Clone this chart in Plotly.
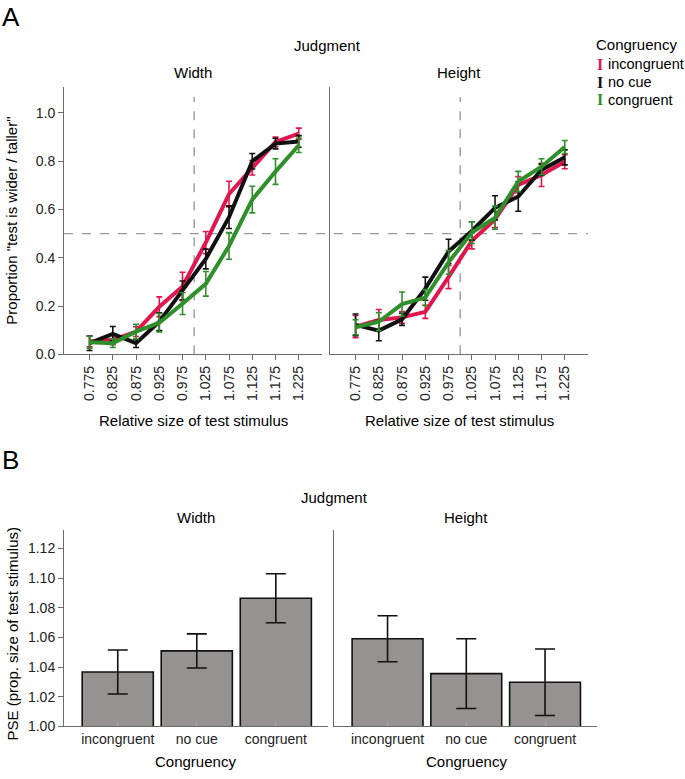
import plotly.graph_objects as go

# ---------------- data ----------------
sizes = [0.775, 0.825, 0.875, 0.925, 0.975, 1.025, 1.075, 1.125, 1.175, 1.225]
size_labels = ["0.775", "0.825", "0.875", "0.925", "0.975", "1.025", "1.075", "1.125", "1.175", "1.225"]

width_incongruent = [0.053, 0.060, 0.094, 0.197, 0.281, 0.463, 0.664, 0.773, 0.880, 0.914]
width_incongruent_err = [0.022, 0.020, 0.020, 0.041, 0.059, 0.046, 0.053, 0.030, 0.020, 0.023]
width_nocue = [0.046, 0.085, 0.046, 0.135, 0.265, 0.395, 0.568, 0.800, 0.873, 0.882]
width_nocue_err = [0.030, 0.030, 0.018, 0.037, 0.039, 0.041, 0.047, 0.032, 0.022, 0.024]
width_congruent = [0.050, 0.046, 0.094, 0.131, 0.210, 0.292, 0.449, 0.641, 0.757, 0.866]
width_congruent_err = [0.025, 0.018, 0.030, 0.038, 0.045, 0.051, 0.055, 0.055, 0.053, 0.030]

height_incongruent = [0.115, 0.142, 0.153, 0.176, 0.320, 0.470, 0.559, 0.702, 0.743, 0.798]
height_incongruent_err = [0.046, 0.044, 0.024, 0.027, 0.048, 0.033, 0.034, 0.034, 0.048, 0.029]
height_nocue = [0.122, 0.098, 0.145, 0.272, 0.426, 0.511, 0.607, 0.654, 0.764, 0.816]
height_nocue_err = [0.045, 0.042, 0.025, 0.048, 0.051, 0.038, 0.050, 0.061, 0.023, 0.031]
height_congruent = [0.112, 0.135, 0.208, 0.235, 0.381, 0.504, 0.566, 0.716, 0.777, 0.859]
height_congruent_err = [0.031, 0.037, 0.050, 0.033, 0.049, 0.045, 0.048, 0.042, 0.033, 0.027]

congruency = ["incongruent", "no cue", "congruent"]
pse_width = [1.0367, 1.0509, 1.0864]
pse_width_err = [0.0148, 0.0115, 0.0165]
pse_height = [1.0591, 1.0356, 1.0298]
pse_height_err = [0.0155, 0.0235, 0.0224]

colors = {"incongruent": "#E0164C", "no cue": "#111111", "congruent": "#2F8F2A"}

# ---------------- geometry helpers ----------------
W, H = 685, 779
def px(x):
    return x / W
def py(y):
    return 1 - y / H

FONT = "Liberation Sans, Arial, sans-serif"
AX = "#6b6b6b"
TXT = "#222222"

fig = go.Figure()

series_A = [
    ("x", "y", [("incongruent", width_incongruent, width_incongruent_err),
                ("no cue", width_nocue, width_nocue_err),
                ("congruent", width_congruent, width_congruent_err)]),
    ("x2", "y2", [("incongruent", height_incongruent, height_incongruent_err),
                  ("no cue", height_nocue, height_nocue_err),
                  ("congruent", height_congruent, height_congruent_err)]),
]
for xa, ya, lst in series_A:
    for name, vals, errs in lst:
        fig.add_trace(go.Scatter(
            x=sizes, y=vals, mode="lines", name=name, showlegend=False,
            line=dict(color=colors[name], width=4),
            error_y=dict(type="data", array=errs, color=colors[name], thickness=1.6, width=3),
            xaxis=xa, yaxis=ya))

bar_style = dict(marker=dict(color="#969291", line=dict(color="#111111", width=1.6)), width=0.9,
                 showlegend=False)
fig.add_trace(go.Bar(x=congruency, y=pse_width,
                     error_y=dict(type="data", array=pse_width_err, color="#111111", thickness=1.6, width=10),
                     xaxis="x3", yaxis="y3", **bar_style))
fig.add_trace(go.Bar(x=congruency, y=pse_height,
                     error_y=dict(type="data", array=pse_height_err, color="#111111", thickness=1.6, width=10),
                     xaxis="x4", yaxis="y4", **bar_style))

tickfont = dict(family=FONT, size=14, color=TXT)
xA = dict(range=[0.72, 1.275], tickvals=sizes, ticktext=size_labels, tickangle=-90,
          showline=True, linecolor=AX, linewidth=1, ticks="outside", ticklen=5, tickcolor=AX,
          showgrid=False, zeroline=False, tickfont=tickfont)
yA = dict(range=[0, 1.107], tickvals=[0, 0.2, 0.4, 0.6, 0.8, 1.0], tickformat=".1f",
          showline=True, linecolor=AX, linewidth=1, ticks="outside", ticklen=5, tickcolor=AX,
          showgrid=False, zeroline=False, tickfont=tickfont, domain=[py(358), py(88)])
xB = dict(range=[-0.68, 2.66], showline=True, linecolor=AX, linewidth=1, ticks="inside",
          ticklen=4, tickcolor="#aaaaaa", showgrid=False, zeroline=False, tickfont=tickfont)
yB = dict(range=[1.0, 1.1327], tickvals=[1.00, 1.02, 1.04, 1.06, 1.08, 1.10, 1.12], tickformat=".2f",
          showline=True, linecolor=AX, linewidth=1, ticks="outside", ticklen=5, tickcolor=AX,
          showgrid=False, zeroline=False, tickfont=tickfont, domain=[py(734), py(535)])

fig.update_layout(
    width=W, height=H, autosize=False,
    margin=dict(l=0, r=0, t=0, b=0),
    paper_bgcolor="white", plot_bgcolor="white",
    font=dict(family=FONT, size=15, color="#000000"),
    bargap=0.1,
    xaxis=dict(xA, domain=[px(64), px(322)], anchor="y"),
    yaxis=dict(yA, anchor="x"),
    xaxis2=dict(xA, domain=[px(330), px(588)], anchor="y2"),
    yaxis2=dict(yA, anchor="x2", showticklabels=False, ticks=""),
    xaxis3=dict(xB, domain=[px(64), px(328)], anchor="y3"),
    yaxis3=dict(yB, anchor="x3"),
    xaxis4=dict(xB, domain=[px(334), px(597)], anchor="y4"),
    yaxis4=dict(yB, anchor="x4", showticklabels=False, ticks=""),
)

dash = dict(color="#9a9a9a", width=1.4, dash="dash")
shapes = [
    dict(type="line", xref="paper", yref="y", x0=px(64), x1=px(588), y0=0.5, y1=0.5, line=dash, layer="below"),
    dict(type="line", xref="x", yref="y", x0=1.0, x1=1.0, y0=0, y1=1.066, line=dash, layer="below"),
    dict(type="line", xref="x2", yref="y2", x0=1.0, x1=1.0, y0=0, y1=1.066, line=dash, layer="below"),
]
fig.update_layout(shapes=shapes)

def ann(text, x, y, size=15, color="#000000", angle=0, xanchor="center", family=FONT):
    return dict(text=text, x=px(x), y=py(y), xref="paper", yref="paper", showarrow=False,
                xanchor=xanchor, yanchor="middle", textangle=angle,
                font=dict(family=family, size=size, color=color))

annotations = [
    ann("A", 0, 17, size=26, xanchor="left"),
    ann("Judgment", 327, 46),
    ann("Width", 193, 73),
    ann("Height", 459, 73),
    ann('Proportion "test is wider / taller"', 12, 223, angle=-90),
    ann("Relative size of test stimulus", 193, 425),
    ann("Relative size of test stimulus", 459, 425),
    ann("B", 0, 465, size=26, xanchor="left"),
    ann("Judgment", 334, 503),
    ann("Width", 196, 523),
    ann("Height", 466, 523),
    ann("PSE (prop. size of test stimulus)", 12, 641, angle=-90),
    ann("Congruency", 196, 769),
    ann("Congruency", 466, 769),
    ann("Congruency", 636, 45),
]
legend_rows = [("incongruent", 65), ("no cue", 83), ("congruent", 101)]
for name, yy in legend_rows:
    annotations.append(ann("<b>I</b>", 600, yy, size=16, color=colors[name], family="Liberation Serif, serif"))
    annotations.append(ann(name, 606, yy, size=14.5, xanchor="left"))
fig.update_layout(annotations=annotations)

fig.write_html("out.html",
               config={"displayModeBar": False},
               post_script="document.body.style.margin='0px';document.body.style.overflow='hidden';")
